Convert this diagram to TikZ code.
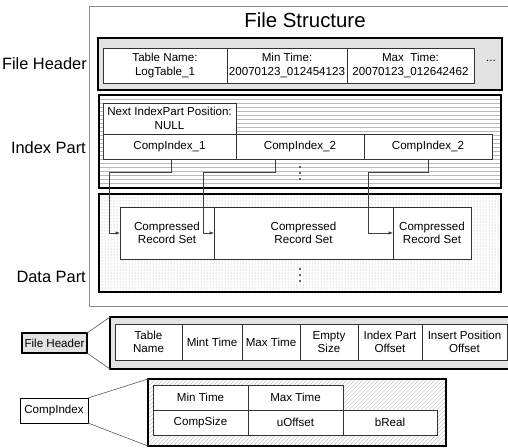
\documentclass[tikz,border=0pt]{standalone}
\usepackage{fontspec}
\setmainfont{Liberation Sans}
\usetikzlibrary{patterns,patterns.meta,arrows.meta}
\newcommand{\bodyfont}{\fontsize{11.6}{13.4}\selectfont}
\newcommand{\sidefont}{\fontsize{16.4}{19}\selectfont}
\newcommand{\headfont}{\fontsize{20.4}{24}\selectfont}

% wider-spaced hatchings for the panel backgrounds
\tikzdeclarepattern{
  name=widehlines,
  type=uncolored,
  bounding box={(0pt,-0.5pt) and (4pt,0.5pt)},
  tile size={(4pt,4pt)},
  code={\draw[line width=0.5pt] (0pt,0pt) -- (4pt,0pt);}
}
\tikzdeclarepattern{
  name=widediag,
  type=uncolored,
  bounding box={(-0.5pt,-0.5pt) and (4.5pt,4.5pt)},
  tile size={(4pt,4pt)},
  code={\draw[line width=0.45pt] (-0.5pt,-0.5pt) -- (4.5pt,4.5pt);}
}

\begin{document}
\begin{tikzpicture}[x=1pt,y=-1pt,
  cell/.style={draw=black!80, fill=white, line width=0.7pt, inner sep=0pt, outer sep=0pt,
               align=center, font=\bodyfont, anchor=north west},
  panel/.style={draw=black, line width=1.6pt, inner sep=0pt, outer sep=0pt, anchor=north west},
  frame/.style={draw=black!45, line width=1pt, inner sep=0pt, outer sep=0pt, anchor=north west},
  sidelabel/.style={font=\sidefont, anchor=east, inner sep=0pt},
  conn/.style={draw=black!75, line width=0.6pt, -{Latex[length=4.5pt,width=3.5pt]}},
  zoomline/.style={draw=black!65, line width=0.6pt},
  vdot/.style={fill=black!80},
  cw/.style={minimum width=#1},
  ch/.style={minimum height=#1}
]
\clip (0,0) rectangle (508,447);

% outer file frame and its title
\node[frame, cw=430pt, ch=300pt] (frame) at (89,6) {};
\node[font=\headfont] (title) at (305,20) {File Structure};

% ---------- file header ----------
\node[panel, fill=black!11, cw=404pt, ch=52pt] (hdr) at (98,38) {};
\node[cell, cw=124pt, ch=35pt] (h1) at (103,48) {Table Name:\\LogTable\_1};
\node[cell, cw=120pt, ch=35pt] (h2) at (227,48) {Min Time:\\20070123\_012454123};
\node[cell, cw=127pt, ch=35pt] (h3) at (347,48) {Max\ \ Time:\\20070123\_012642462};
\node[font=\bodyfont, inner sep=0pt] (hdots) at (491,61) {...};
\node[sidelabel] (lhdr) at (87,64) {File Header};

% ---------- index part ----------
\node[panel, pattern=widehlines, pattern color=black!28, cw=402pt, ch=93pt] (idx) at (99,95) {};
\node[cell, cw=133pt, ch=31pt] (next) at (103,103) {Next IndexPart Position:\\NULL};
\node[cell, cw=133pt, ch=25pt] (ci1) at (103,134) {CompIndex\_1};
\node[cell, cw=128pt, ch=25pt] (ci2) at (236,134) {CompIndex\_2};
\node[cell, cw=128pt, ch=25pt] (ci3) at (364,134) {CompIndex\_2};
\foreach \y in {167,173,179} \fill[vdot] (300,\y) circle (1.1pt);
\node[sidelabel] (lidx) at (86,148) {Index Part};

% ---------- data part ----------
\node[panel, pattern=dots, pattern color=black!35, cw=402pt, ch=98pt] (data) at (99,194) {};
\node[cell, cw=94pt, ch=52pt] (crs1) at (120,207) {Compressed\\Record Set};
\node[cell, cw=179pt, ch=52pt] (crs2) at (214,207) {Compressed\\Record Set};
\node[cell, cw=78pt, ch=52pt, line width=1pt] (crs3) at (393,207) {Compressed\\Record Set};
\foreach \y in {269,275,281} \fill[vdot] (300,\y) circle (1.1pt);
\node[sidelabel] (ldata) at (86,277) {Data Part};

% index entries pointing at their record sets
\coordinate (t1) at (109,172);
\coordinate (t2) at (203,172);
\coordinate (t3) at (368,172);
\draw[conn] ([xshift=1.5pt]ci1.south) |- (t1) |- (crs1.west);
\draw[conn] ([xshift=-25pt]ci2.south) |- (t2) |- (crs2.west);
\draw[conn] (ci3.south) |- (t3) |- (crs3.west);

% ---------- file header layout ----------
\node[panel, fill=black!11, cw=65pt, ch=20pt, align=center, font=\bodyfont] (fhkey) at (22,333) {File Header};
\node[panel, fill=black!11, cw=410pt, ch=52pt] (fhbox) at (110,317) {};
\node[cell, cw=67pt, ch=36pt] (f1) at (115,324) {Table\\Name};
\node[cell, cw=60pt, ch=36pt] (f2) at (182,324) {Mint Time};
\node[cell, cw=58pt, ch=36pt] (f3) at (242,324) {Max Time};
\node[cell, cw=58pt, ch=36pt] (f4) at (300,324) {Empty\\Size};
\node[cell, cw=64pt, ch=36pt] (f5) at (358,324) {Index Part\\Offset};
\node[cell, cw=85pt, ch=36pt] (f6) at (422,324) {Insert Position\\Offset};
\draw[zoomline] (fhkey.north east) -- (fhbox.north west);
\draw[zoomline] (fhkey.south east) -- (fhbox.south west);

% ---------- comp index layout ----------
\node[cell, draw=black, line width=0.9pt, cw=68pt, ch=25pt] (cikey) at (20,398) {CompIndex};
\node[panel, pattern=widediag, pattern color=black!20, cw=298pt, ch=67pt] (cibox) at (148,379) {};
\node[cell, cw=95pt, ch=25pt] (c1) at (153,385) {Min Time};
\node[cell, cw=95pt, ch=25pt] (c2) at (248,385) {Max Time};
\node[cell, cw=95pt, ch=25pt] (c3) at (153,410) {CompSize};
\node[cell, cw=95pt, ch=25pt] (c4) at (248,410) {uOffset};
\node[cell, cw=94pt, ch=25pt] (c5) at (343,410) {bReal};
\draw[zoomline] (cikey.north east) -- (cibox.north west);
\draw[zoomline] (cikey.south east) -- (cibox.south west);
\end{tikzpicture}
\end{document}
